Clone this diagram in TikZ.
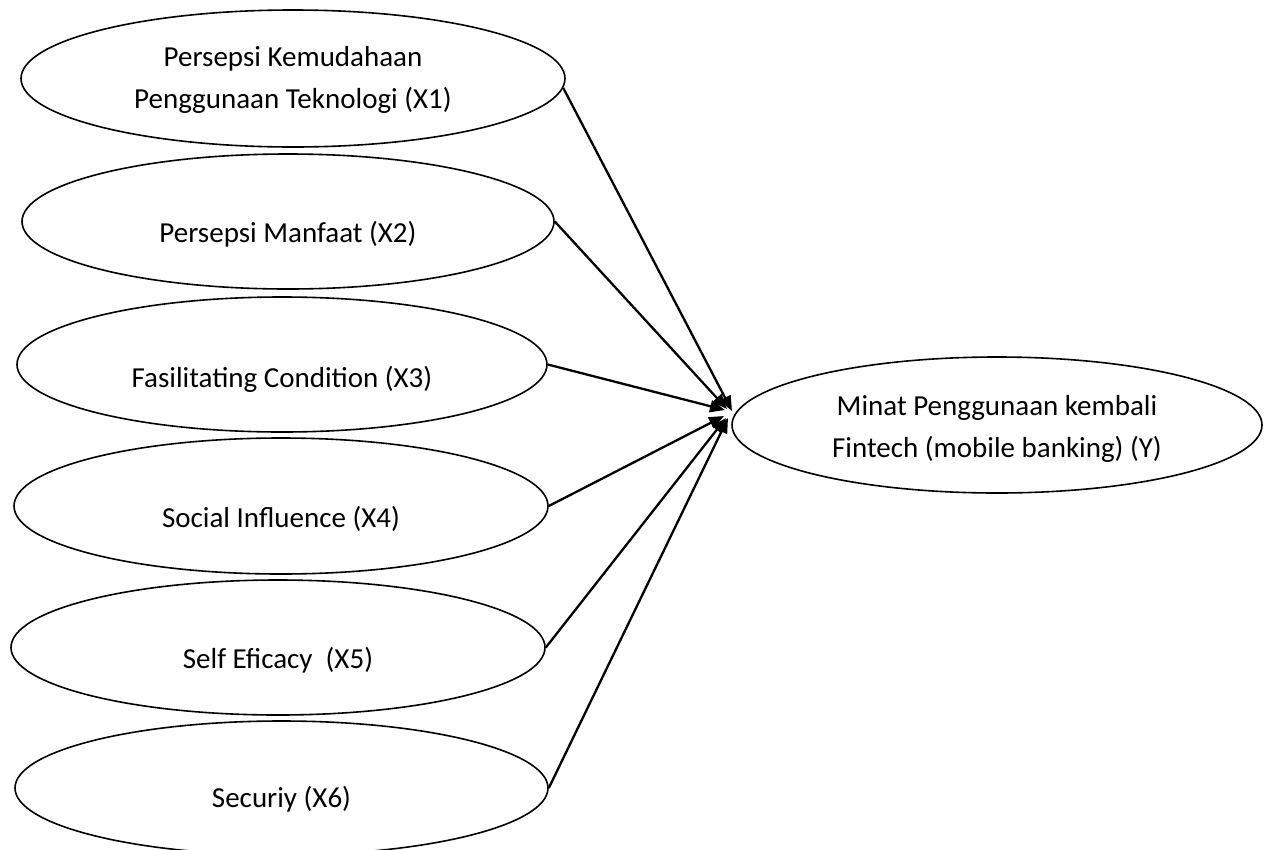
\documentclass[tikz,border=0pt]{standalone}
\usepackage{fontspec}
\setmainfont{Carlito}
\usetikzlibrary{shapes.geometric,arrows.meta}
\tikzset{
  var/.style={ellipse, draw=black, line width=1.6pt, inner sep=0pt},
  txt/.style={inner sep=0pt, align=center, font=\fontsize{29}{42}\selectfont},
  path/.style={draw=black, line width=2.3pt, -{Triangle[length=15pt,width=12pt]}}
}
\begin{document}
\begin{tikzpicture}[x=1pt,y=-1pt]
\useasboundingbox (0,0) rectangle (1264,849);
\node[var, minimum width=544pt, minimum height=137pt,
  label={[txt, yshift=-1pt]center:Persepsi Kemudahaan\\Penggunaan Teknologi (X1)}] (X1) at (293,78.5) {};
\node[var, minimum width=532pt, minimum height=135pt,
  label={[txt, yshift=-12.5pt]center:Persepsi Manfaat (X2)}] (X2) at (288,221.5) {};
\node[var, minimum width=530pt, minimum height=135pt,
  label={[txt, yshift=-15pt]center:Fasilitating Condition (X3)}] (X3) at (282,364.5) {};
\node[var, minimum width=534pt, minimum height=136pt,
  label={[txt, yshift=-13pt]center:Social Influence (X4)}] (X4) at (281,506) {};
\node[var, minimum width=534pt, minimum height=135pt,
  label={[txt, yshift=-12.5pt]center:Self Eficacy\ \ (X5)}] (X5) at (278,647.5) {};
\node[var, minimum width=533pt, minimum height=134pt,
  label={[txt, yshift=-11.5pt]center:Securiy (X6)}] (X6) at (281.5,788) {};
\node[var, minimum width=530pt, minimum height=136pt,
  label={[txt, yshift=-4pt]center:Minat Penggunaan kembali\\Fintech (mobile banking) (Y)}] (Y) at (997,425) {};
\coordinate (t1) at (732,411);
\coordinate (t2) at (727,409);
\coordinate (t3) at (725,410);
\coordinate (t4) at (724,416);
\coordinate (t5) at (726,418);
\coordinate (t6) at (728,418);
\draw[path] (X1.-2) -- (t1);
\draw[path] (X2.-0.5) -- (t2);
\draw[path] (X3.-0.5) -- (t3);
\draw[path] (X4.-0.2) -- (t4);
\draw[path] (X5.east) -- (t5);
\draw[path] (X6.-0.4) -- (t6);
\end{tikzpicture}
\end{document}
